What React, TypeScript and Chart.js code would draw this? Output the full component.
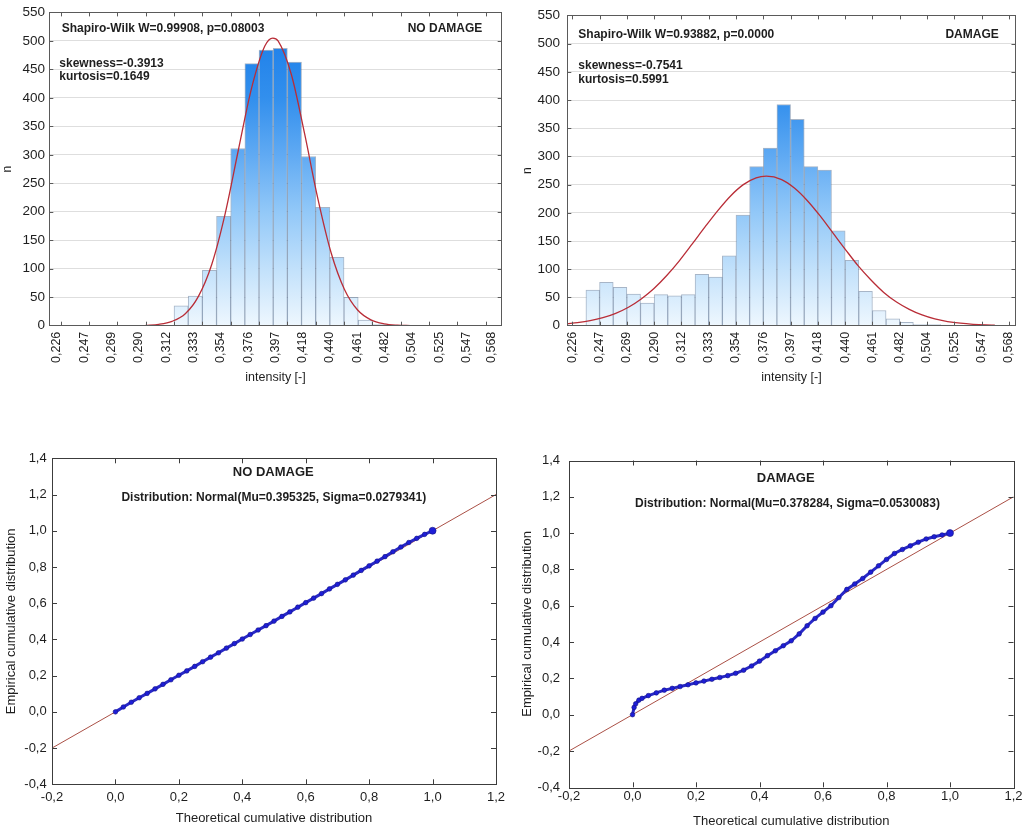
import React, { useEffect, useRef } from "react";
import { Chart, registerables } from "chart.js";
Chart.register(...registerables);

const W = 1030;
const H = 831;
const FONT = "'Liberation Sans', Arial, Helvetica, sans-serif";
const INK = "#1e1e1e";

// ---------- Histogram axes ----------
const histTickValues = [0.226, 0.247375, 0.26875, 0.290125, 0.3115, 0.332875, 0.35425, 0.375625, 0.397, 0.418375, 0.43975, 0.461125, 0.4825, 0.503875, 0.52525, 0.546625, 0.568];
const histTickLabels = ["0,226", "0,247", "0,269", "0,290", "0,312", "0,333", "0,354", "0,376", "0,397", "0,418", "0,440", "0,461", "0,482", "0,504", "0,525", "0,547", "0,568"];
// where the labels of the NO DAMAGE histogram sit on its axis
const histNoDamageLabelPos = [0.2232, 0.2438, 0.2644, 0.285, 0.3056, 0.3262, 0.3468, 0.3674, 0.388, 0.4086, 0.4292, 0.4498, 0.4704, 0.491, 0.5116, 0.5322, 0.5514];
const histYTicks = [0, 50, 100, 150, 200, 250, 300, 350, 400, 450, 500, 550];
const histYLabels = ["0", "50", "100", "150", "200", "250", "300", "350", "400", "450", "500", "550"];

// ---------- NO DAMAGE histogram ----------
const binCentersNoDamage = [0.316844, 0.327531, 0.338219, 0.348906, 0.359594, 0.370281, 0.380969, 0.391656, 0.402344, 0.413031, 0.423719, 0.434406, 0.445094, 0.455781, 0.466469];
const countsNoDamage = [35, 52, 97, 192, 311, 460, 484, 487, 463, 297, 208, 120, 50, 10, 2];
const curveNoDamageX = [0.29, 0.3, 0.31, 0.32, 0.33, 0.34, 0.35, 0.36, 0.37, 0.38, 0.386, 0.39, 0.4, 0.41, 0.42, 0.43, 0.44, 0.45, 0.46, 0.47, 0.48, 0.49];
const curveNoDamageY = [0.6, 2.4, 7.7, 21, 52, 108, 196, 308, 417, 491, 505, 500, 441, 337, 223, 128, 64, 27.5, 10.3, 3.3, 0.9, 0.2];

// ---------- DAMAGE histogram ----------
const binCentersDamage = [0.24203, 0.252719, 0.263406, 0.274094, 0.284781, 0.295469, 0.306156, 0.316844, 0.327531, 0.338219, 0.348906, 0.359594, 0.370281, 0.380969, 0.391656, 0.402344, 0.413031, 0.423719, 0.434406, 0.445094, 0.455781, 0.466469, 0.477156, 0.487844, 0.498531, 0.509219, 0.519906];
const countsDamage = [63, 77, 68, 56, 40, 55, 53, 55, 91, 86, 124, 196, 282, 315, 392, 366, 282, 276, 168, 116, 61, 27, 12, 6, 2, 2, 1];
const curveDamageX = [0.222, 0.23, 0.24, 0.25, 0.26, 0.27, 0.28, 0.29, 0.3, 0.31, 0.32, 0.33, 0.34, 0.35, 0.36, 0.37, 0.378, 0.39, 0.4, 0.41, 0.42, 0.43, 0.44, 0.45, 0.46, 0.47, 0.48, 0.49, 0.5, 0.51, 0.52, 0.53, 0.54, 0.55, 0.557];
const curveDamageY = [3.4, 5.3, 8.8, 14.2, 22, 32.8, 47.5, 66, 89, 115.5, 145, 175, 204, 230, 250, 262, 265, 259, 244, 222, 195, 165, 135, 106, 81, 59, 42, 29, 19, 12, 7.4, 4.4, 2.5, 1.4, 1];

// ---------- P-P plots ----------
const ppXTicks = [-0.2, 0, 0.2, 0.4, 0.6, 0.8, 1.0, 1.2];
const ppXLabels = ["-0,2", "0,0", "0,2", "0,4", "0,6", "0,8", "1,0", "1,2"];
const ppYTicks = [-0.4, -0.2, 0, 0.2, 0.4, 0.6, 0.8, 1.0, 1.2, 1.4];
const ppYLabels = ["-0,4", "-0,2", "0,0", "0,2", "0,4", "0,6", "0,8", "1,0", "1,2", "1,4"];
const refLineEnds = [-0.2, 1.2];

const ppNoDamageTheo = [0, 0.025, 0.05, 0.075, 0.1, 0.125, 0.15, 0.175, 0.2, 0.225, 0.25, 0.275, 0.3, 0.325, 0.35, 0.375, 0.4, 0.425, 0.45, 0.475, 0.5, 0.525, 0.55, 0.575, 0.6, 0.625, 0.65, 0.675, 0.7, 0.725, 0.75, 0.775, 0.8, 0.825, 0.85, 0.875, 0.9, 0.925, 0.95, 0.975, 1.0];
const ppNoDamageEmp = [0, 0.027, 0.053, 0.078, 0.102, 0.127, 0.152, 0.177, 0.202, 0.226, 0.251, 0.277, 0.302, 0.326, 0.352, 0.377, 0.402, 0.427, 0.452, 0.476, 0.501, 0.527, 0.552, 0.578, 0.603, 0.628, 0.653, 0.679, 0.704, 0.729, 0.755, 0.781, 0.806, 0.832, 0.857, 0.884, 0.91, 0.935, 0.958, 0.98, 1.0];

const ppDamageTheo = [0, 0.005, 0.01, 0.02, 0.03, 0.05, 0.075, 0.1, 0.125, 0.15, 0.175, 0.2, 0.225, 0.25, 0.275, 0.3, 0.325, 0.35, 0.375, 0.4, 0.425, 0.45, 0.475, 0.5, 0.525, 0.55, 0.575, 0.6, 0.625, 0.65, 0.675, 0.7, 0.725, 0.75, 0.775, 0.8, 0.825, 0.85, 0.875, 0.9, 0.925, 0.95, 0.975, 1.0];
const ppDamageEmp = [0, 0.04, 0.06, 0.08, 0.09, 0.105, 0.12, 0.135, 0.145, 0.155, 0.165, 0.175, 0.185, 0.195, 0.205, 0.215, 0.228, 0.245, 0.268, 0.295, 0.325, 0.352, 0.38, 0.407, 0.445, 0.49, 0.53, 0.565, 0.6, 0.645, 0.69, 0.72, 0.75, 0.785, 0.82, 0.855, 0.888, 0.91, 0.93, 0.95, 0.968, 0.98, 0.99, 1.0];

// ---------- helpers ----------
type TextItem = { text: string; ref: "left" | "right" | "center"; dx: number; dy: number; align: CanvasTextAlign; font: string };
type Decor = { frame: string; xMarks: number[]; yMarks: number[]; len: number; texts: TextItem[] };

function decorPlugin(cfg: Decor) {
  return {
    id: "decor",
    afterDraw(chart: any) {
      const { ctx, chartArea: a, scales } = chart;
      ctx.save();
      ctx.strokeStyle = cfg.frame;
      ctx.lineWidth = 1;
      ctx.beginPath();
      for (const v of cfg.xMarks) {
        const px = scales.x.getPixelForValue(v);
        if (px < a.left + 1 || px > a.right - 1) continue;
        const X = Math.round(px) + 0.5;
        ctx.moveTo(X, a.bottom);
        ctx.lineTo(X, a.bottom - cfg.len);
        ctx.moveTo(X, a.top);
        ctx.lineTo(X, a.top + cfg.len);
      }
      for (const v of cfg.yMarks) {
        const py = scales.y.getPixelForValue(v);
        if (py < a.top + 1 || py > a.bottom - 1) continue;
        const Y = Math.round(py) + 0.5;
        ctx.moveTo(a.left, Y);
        ctx.lineTo(a.left + cfg.len, Y);
        ctx.moveTo(a.right, Y);
        ctx.lineTo(a.right - cfg.len, Y);
      }
      ctx.stroke();
      ctx.strokeRect(Math.round(a.left) + 0.5, Math.round(a.top) + 0.5, Math.round(a.right - a.left), Math.round(a.bottom - a.top));
      ctx.fillStyle = INK;
      ctx.textBaseline = "middle";
      for (const t of cfg.texts) {
        const base = t.ref === "left" ? a.left : t.ref === "right" ? a.right : (a.left + a.right) / 2;
        ctx.font = t.font;
        ctx.textAlign = t.align;
        ctx.fillText(t.text, base + t.dx, a.top + t.dy);
      }
      ctx.restore();
    },
  };
}

type Box = { L: number; T: number; R: number; B: number; yW: number; xH: number };
const pad = (b: Box) => ({ left: b.L - b.yW, top: b.T, right: W - b.R, bottom: H - b.B - b.xH });

const barFill = (c: any) => {
  const chart = c.chart;
  if (!chart.chartArea) return "rgb(120,180,240)";
  const y = chart.scales.y;
  const g = chart.ctx.createLinearGradient(0, y.getPixelForValue(0), 0, y.getPixelForValue(550));
  g.addColorStop(0, "rgb(238,247,254)");
  g.addColorStop(0.18, "rgb(194,225,251)");
  g.addColorStop(0.364, "rgb(146,200,248)");
  g.addColorStop(0.545, "rgb(96,170,243)");
  g.addColorStop(0.727, "rgb(50,143,237)");
  g.addColorStop(1, "rgb(22,122,232)");
  return g;
};

const bold12 = `bold 12px ${FONT}`;

function histConfig(p: {
  box: Box; min: number; max: number; labelPos: number[]; yPad: number;
  centers: number[]; counts: number[]; cx: number[]; cy: number[]; texts: TextItem[];
}) {
  const bars = p.centers.map((x, i) => ({ x, y: p.counts[i] }));
  const curve = p.cx.map((x, i) => ({ x, y: p.cy[i] }));
  return {
    type: "bar",
    data: {
      datasets: [
        { type: "line", data: curve, borderColor: "rgb(185,45,55)", borderWidth: 1.3, pointRadius: 0, cubicInterpolationMode: "monotone", order: 0 },
        { type: "bar", data: bars, backgroundColor: barFill, borderColor: "rgba(60,90,130,0.45)", borderWidth: 1, barPercentage: 1, categoryPercentage: 1, order: 1 },
      ],
    },
    options: {
      responsive: false,
      animation: false,
      events: [],
      layout: { padding: pad(p.box) },
      plugins: { legend: { display: false }, tooltip: { enabled: false } },
      scales: {
        x: {
          type: "linear", min: p.min, max: p.max, offset: false,
          grid: { display: false, drawTicks: false }, border: { display: false },
          afterBuildTicks: (s: any) => { s.ticks = p.labelPos.map((v) => ({ value: v })); },
          afterFit: (s: any) => { s.height = p.box.xH; },
          ticks: { autoSkip: false, minRotation: 90, maxRotation: 90, padding: 6, color: INK, font: { family: FONT, size: 12.5 }, callback: (_v: any, i: number) => histTickLabels[i] },
          title: { display: true, text: "intensity [-]", padding: 0, color: INK, font: { family: FONT, size: 12.5 } },
        },
        y: {
          type: "linear", min: 0, max: 550,
          grid: { color: "#dedede", drawTicks: false }, border: { display: false },
          afterBuildTicks: (s: any) => { s.ticks = histYTicks.map((v) => ({ value: v })); },
          afterFit: (s: any) => { s.width = p.box.yW; },
          ticks: { padding: p.yPad, color: INK, font: { family: FONT, size: 13.5 }, callback: (_v: any, i: number) => histYLabels[i] },
          title: { display: true, text: "n", padding: 0, color: INK, font: { family: FONT, size: 12 } },
        },
      },
    },
    plugins: [decorPlugin({ frame: "#5a5a5a", xMarks: histTickValues, yMarks: histYTicks, len: 4, texts: p.texts })],
  };
}

function ppConfig(p: { box: Box; yPad: number; xPad: number; theo: number[]; emp: number[]; texts: TextItem[] }) {
  const pts = p.theo.map((x, i) => ({ x, y: p.emp[i] }));
  const n = pts.length;
  const ref = refLineEnds.map((v) => ({ x: v, y: v }));
  return {
    type: "scatter",
    data: {
      datasets: [
        {
          data: pts, showLine: true, borderColor: "rgb(40,40,200)", borderWidth: 3,
          pointRadius: (c: any) => (c.dataIndex === n - 1 ? 3.5 : 2.3),
          pointBackgroundColor: "rgb(30,30,215)", pointBorderColor: "rgb(20,20,130)", pointBorderWidth: 0.6, order: 0,
        },
        { data: ref, showLine: true, borderColor: "rgb(170,80,70)", borderWidth: 1, pointRadius: 0, order: 1 },
      ],
    },
    options: {
      responsive: false,
      animation: false,
      events: [],
      layout: { padding: pad(p.box) },
      plugins: { legend: { display: false }, tooltip: { enabled: false } },
      scales: {
        x: {
          type: "linear", min: -0.2, max: 1.2,
          grid: { display: false, drawTicks: false }, border: { display: false },
          afterBuildTicks: (s: any) => { s.ticks = ppXTicks.map((v) => ({ value: v })); },
          afterFit: (s: any) => { s.height = p.box.xH; },
          ticks: { autoSkip: false, maxRotation: 0, padding: p.xPad, color: INK, font: { family: FONT, size: 13 }, callback: (_v: any, i: number) => ppXLabels[i] },
          title: { display: true, text: "Theoretical cumulative distribution", padding: 0, color: INK, font: { family: FONT, size: 13 } },
        },
        y: {
          type: "linear", min: -0.4, max: 1.4,
          grid: { display: false, drawTicks: false }, border: { display: false },
          afterBuildTicks: (s: any) => { s.ticks = ppYTicks.map((v) => ({ value: v })); },
          afterFit: (s: any) => { s.width = p.box.yW; },
          ticks: { padding: p.yPad, color: INK, font: { family: FONT, size: 13 }, callback: (_v: any, i: number) => ppYLabels[i] },
          title: { display: true, text: "Empirical cumulative distribution", padding: 0, color: INK, font: { family: FONT, size: 13 } },
        },
      },
    },
    plugins: [decorPlugin({ frame: "#3c3c3c", xMarks: ppXTicks, yMarks: ppYTicks, len: 5, texts: p.texts })],
  };
}

const configs = [
  () => histConfig({
    box: { L: 49.3, T: 11, R: 501.7, B: 325.7, yW: 48.5, xH: 59.8 },
    min: 0.2174, max: 0.5587, labelPos: histNoDamageLabelPos, yPad: 4.3,
    centers: binCentersNoDamage, counts: countsNoDamage, cx: curveNoDamageX, cy: curveNoDamageY,
    texts: [
      { text: "Shapiro-Wilk W=0.99908, p=0.08003", ref: "left", dx: 12.4, dy: 16.3, align: "left", font: bold12 },
      { text: "NO DAMAGE", ref: "right", dx: -19.4, dy: 16.7, align: "right", font: bold12 },
      { text: "skewness=-0.3913", ref: "left", dx: 10, dy: 51.3, align: "left", font: bold12 },
      { text: "kurtosis=0.1649", ref: "left", dx: 10, dy: 64.7, align: "left", font: bold12 },
    ],
  }),
  () => histConfig({
    box: { L: 567.3, T: 12, R: 1020, B: 325.7, yW: 47.2, xH: 59.8 },
    min: 0.2221, max: 0.5732, labelPos: histTickValues, yPad: 7.3,
    centers: binCentersDamage, counts: countsDamage, cx: curveDamageX, cy: curveDamageY,
    texts: [
      { text: "Shapiro-Wilk W=0.93882, p=0.0000", ref: "left", dx: 11, dy: 19.7, align: "left", font: bold12 },
      { text: "DAMAGE", ref: "right", dx: -16.7, dy: 19.7, align: "right", font: bold12 },
      { text: "skewness=-0.7541", ref: "left", dx: 11, dy: 50.3, align: "left", font: bold12 },
      { text: "kurtosis=0.5991", ref: "left", dx: 11, dy: 64, align: "left", font: bold12 },
    ],
  }),
  () => ppConfig({
    box: { L: 52, T: 458.3, R: 496, B: 784.3, yW: 48.8, xH: 41.8 },
    yPad: 5.3, xPad: 5.6, theo: ppNoDamageTheo, emp: ppNoDamageEmp,
    texts: [
      { text: "NO DAMAGE", ref: "center", dx: -0.7, dy: 14.4, align: "center", font: `bold 13px ${FONT}` },
      { text: "Distribution: Normal(Mu=0.395325, Sigma=0.0279341)", ref: "center", dx: -0.2, dy: 39, align: "center", font: bold12 },
    ],
  }),
  () => ppConfig({
    box: { L: 569, T: 460.5, R: 1013.5, B: 787.3, yW: 49.3, xH: 42.2 },
    yPad: 9, xPad: 1.6, theo: ppDamageTheo, emp: ppDamageEmp,
    texts: [
      { text: "DAMAGE", ref: "center", dx: -5.5, dy: 17.8, align: "center", font: `bold 13px ${FONT}` },
      { text: "Distribution: Normal(Mu=0.378284, Sigma=0.0530083)", ref: "center", dx: -3.75, dy: 42.8, align: "center", font: bold12 },
    ],
  }),
];

function ChartCanvas({ make }: { make: () => any }) {
  const ref = useRef<HTMLCanvasElement>(null);
  useEffect(() => {
    const chart = new Chart(ref.current as HTMLCanvasElement, make());
    return () => chart.destroy();
  }, []);
  return (
    <canvas
      ref={ref}
      width={W}
      height={H}
      style={{ position: "absolute", left: 0, top: 0, width: W, height: H, pointerEvents: "none" }}
    />
  );
}

export default function App() {
  return (
    <div style={{ position: "fixed", left: 0, top: 0, width: W, height: H, background: "#fff", overflow: "hidden" }}>
      {configs.map((m, i) => (
        <ChartCanvas key={i} make={m} />
      ))}
    </div>
  );
}
